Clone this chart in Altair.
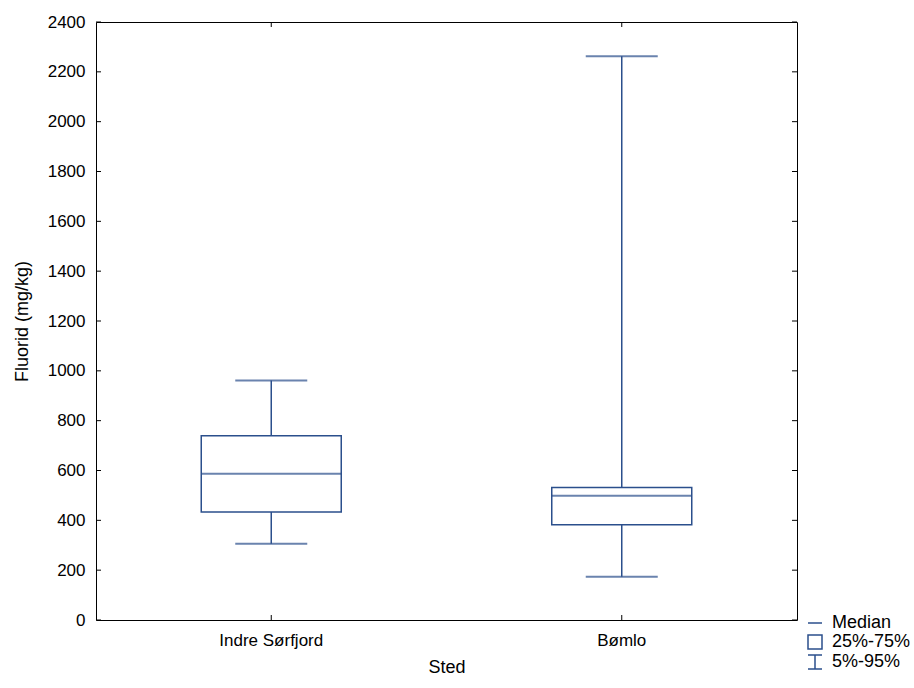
import altair as alt
import pandas as pd

# ---- data ----
sites = ["Indre Sørfjord", "Bømlo"]
p05 = [306, 174]
q25 = [433, 382]
median = [587, 499]
q75 = [739, 532]
p95 = [961, 2263]

y_ticks = [0, 200, 400, 600, 800, 1000, 1200, 1400, 1600, 1800, 2000, 2200, 2400]
legend_labels = ["Median", "25%-75%", "5%-95%"]

BLUE = "#2b4f8c"
FONT = "Liberation Sans"
W, H = 701, 598

df = pd.DataFrame({"Sted": sites, "p05": p05, "q25": q25, "median": median,
                   "q75": q75, "p95": p95})
ticks_df = pd.DataFrame({"v": y_ticks})
leg_df = pd.DataFrame({"k": legend_labels})

xscale = alt.Scale(domain=sites, paddingInner=0, paddingOuter=0)
yscale = alt.Scale(domain=[0, 2400], nice=False, zero=True)

xenc = alt.X("Sted:N", scale=xscale, sort=sites,
             axis=alt.Axis(title="Sted", labelAngle=0, tickSize=0, domain=False,
                           labelPadding=12, titlePadding=10))
yaxis = alt.Axis(title="Fluorid (mg/kg)", values=y_ticks, format="d", tickSize=0,
                 domain=False, grid=False, labelPadding=11, titlePadding=16)

base = alt.Chart(df)

whisker = base.mark_rule(color=BLUE, strokeWidth=1.5).encode(
    x=xenc,
    y=alt.Y("p05:Q", scale=yscale, axis=yaxis),
    y2="p95:Q",
)
box = base.mark_bar(fill="white", stroke=BLUE, strokeWidth=1.5, width=140).encode(
    x=alt.X("Sted:N", scale=xscale, sort=sites),
    y=alt.Y("q25:Q", scale=yscale),
    y2="q75:Q",
)
med = base.mark_tick(color=BLUE, size=140, thickness=2, orient="horizontal").encode(
    x=alt.X("Sted:N", scale=xscale, sort=sites),
    y=alt.Y("median:Q", scale=yscale),
)
cap_lo = base.mark_tick(color=BLUE, size=72, thickness=2, orient="horizontal").encode(
    x=alt.X("Sted:N", scale=xscale, sort=sites),
    y=alt.Y("p05:Q", scale=yscale),
)
cap_hi = base.mark_tick(color=BLUE, size=72, thickness=2, orient="horizontal").encode(
    x=alt.X("Sted:N", scale=xscale, sort=sites),
    y=alt.Y("p95:Q", scale=yscale),
)

# inward ticks (left / right / bottom / top)
tk = alt.Chart(ticks_df)
yt_left = tk.mark_rule(color="black", strokeWidth=1).encode(
    x=alt.value(0), x2=alt.value(5), y=alt.Y("v:Q", scale=yscale))
yt_right = tk.mark_rule(color="black", strokeWidth=1).encode(
    x=alt.value(W - 5), x2=alt.value(W), y=alt.Y("v:Q", scale=yscale))
xt_bottom = base.mark_rule(color="black", strokeWidth=1).encode(
    x=alt.X("Sted:N", scale=xscale, sort=sites), y=alt.value(H - 5), y2=alt.value(H))
xt_top = base.mark_rule(color="black", strokeWidth=1).encode(
    x=alt.X("Sted:N", scale=xscale, sort=sites), y=alt.value(0), y2=alt.value(5))

legend_layer = alt.Chart(leg_df).mark_point(opacity=0).encode(
    shape=alt.Shape(
        "k:N",
        scale=alt.Scale(domain=legend_labels,
                        range=["M-1,0H1", "M-1,-1H1V1H-1Z",
                               "M-1,-1H1M0,-1V1M-1,1H1"]),
        legend=alt.Legend(title=None, orient="none", legendX=710, legendY=592,
                          symbolSize=196, symbolStrokeColor=BLUE,
                          symbolFillColor="white", symbolStrokeWidth=1.5,
                          symbolOpacity=1, labelFont=FONT, labelFontSize=18,
                          labelColor="black", labelOffset=8, rowPadding=0,
                          labelExpr="datum.label == '5%-95%' ? '  ' + datum.label : datum.label",
                          padding=0),
    )
)

chart = alt.layer(
    whisker, box, med, cap_lo, cap_hi,
    yt_left, yt_right, xt_bottom, xt_top, legend_layer
).properties(
    width=W, height=H,
    autosize=alt.AutoSizeParams(type="none"),
    padding={"left": 96, "top": 22, "right": 117, "bottom": 68},
    background="white",
).configure_view(
    stroke="black", strokeWidth=1
).configure_axis(
    labelFont=FONT, titleFont=FONT, labelFontSize=17, titleFontSize=18,
    labelColor="black", titleColor="black", titleFontWeight="normal",
)

chart.save("out.html", embed_options={"renderer": "svg", "actions": False})
